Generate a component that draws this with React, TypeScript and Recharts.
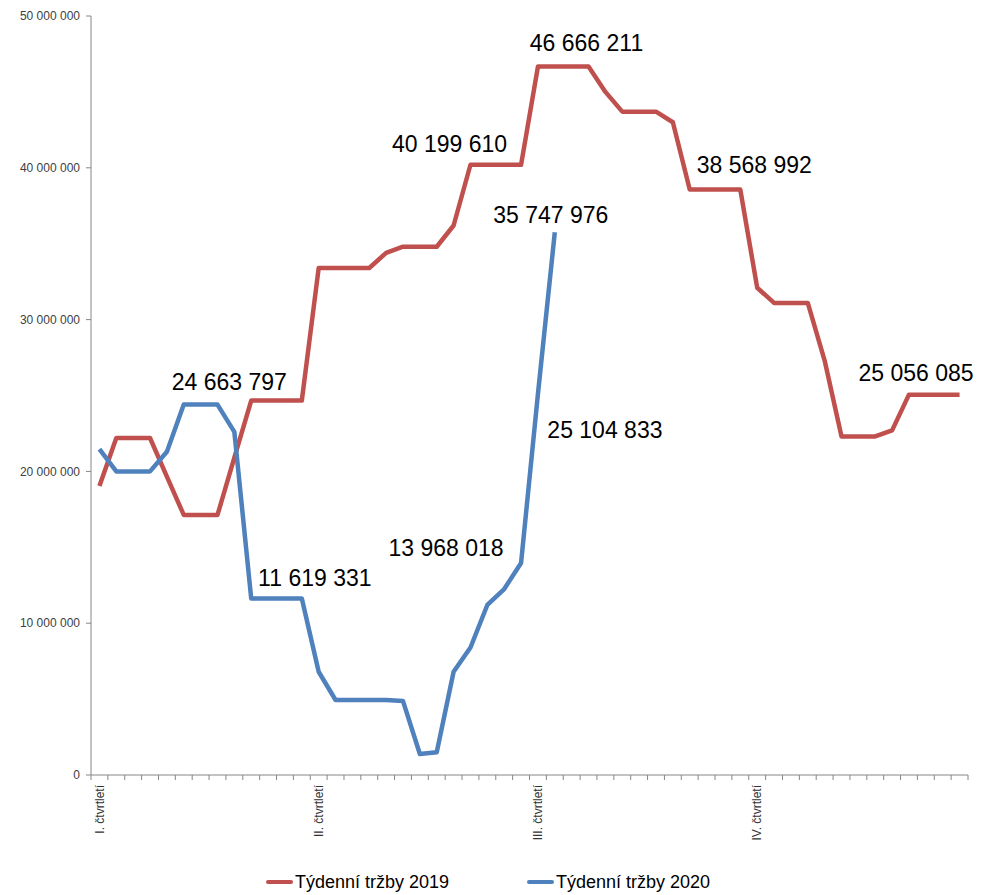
import React from "react";
import { LineChart, Line, XAxis, YAxis, Legend } from "recharts";

// Week categories (52 weeks), quarter labels shown at quarter starts
const quarterLabels: string[] = ["I. čtvrtletí", "II. čtvrtletí", "III. čtvrtletí", "IV. čtvrtletí"];
const quarterStartWeeks: number[] = [0, 13, 26, 39];

const yTicks: number[] = [0, 10000000, 20000000, 30000000, 40000000, 50000000];

const sales2019: number[] = [
  19040000, 22200000, 22200000, 22200000, 19650000, 17130000, 17130000, 17130000,
  20900000, 24663797, 24663797, 24663797, 24663797, 33400000, 33400000, 33400000,
  33400000, 34400000, 34800000, 34800000, 34800000, 36200000, 40199610, 40199610,
  40199610, 40199610, 46666211, 46666211, 46666211, 46666211, 45000000, 43700000,
  43700000, 43700000, 43000000, 38568992, 38568992, 38568992, 38568992, 32100000,
  31100000, 31100000, 31100000, 27300000, 22300000, 22300000, 22300000, 22700000,
  25056085, 25056085, 25056085, 25056085,
];

const sales2020: (number | null)[] = [
  21470000, 20000000, 20000000, 20000000, 21300000, 24400000, 24400000, 24400000,
  22600000, 11619331, 11619331, 11619331, 11619331, 6800000, 4940000, 4940000,
  4940000, 4940000, 4870000, 1380000, 1500000, 6800000, 8400000, 11200000,
  12250000, 13968018, 25104833, 35747976,
  null, null, null, null, null, null, null, null, null, null, null, null,
  null, null, null, null, null, null, null, null, null, null, null, null,
];

// Labelled points: week index -> label offset (dx, dy) relative to the point
const labels2019: { idx: number; dx: number; dy: number }[] = [
  { idx: 9, dx: -22, dy: -19 },
  { idx: 22, dx: -21, dy: -21 },
  { idx: 29, dx: -2, dy: -24 },
  { idx: 38, dx: 14, dy: -25 },
  { idx: 48, dx: 7, dy: -22 },
];
const labels2020: { idx: number; dx: number; dy: number }[] = [
  { idx: 12, dx: 13, dy: -21 },
  { idx: 25, dx: -75, dy: -15 },
  { idx: 26, dx: 67, dy: 36 },
  { idx: 27, dx: -4, dy: -18 },
];

const RED = "#C0504D";
const BLUE = "#4F81BD";
const FONT = "'Liberation Sans', Arial, sans-serif";

const data = sales2019.map((v, i) => ({
  i,
  s2019: v,
  s2020: sales2020[i],
}));

const boundaryTicks: number[] = Array.from({ length: 53 }, (_, k) => k - 0.5);

const fmt = (v: number) => String(Math.round(v)).replace(/\B(?=(\d{3})+(?!\d))/g, " ");

const makeLabel = (cfg: { idx: number; dx: number; dy: number }[]) => (props: any) => {
  const { x, y, index, value } = props;
  const c = cfg.find((e) => e.idx === index);
  if (!c || value == null || x == null || y == null) return null;
  return (
    <text
      key={`lbl-${index}`}
      x={x + c.dx}
      y={y + c.dy}
      dy="0.36em"
      textAnchor="middle"
      fontFamily={FONT}
      fontSize={23}
      fill="#000"
    >
      {fmt(value)}
    </text>
  );
};

const QuarterTick = (props: any) => {
  const { x, y, payload } = props;
  const k = quarterStartWeeks.indexOf(payload.value);
  if (k < 0) return null;
  return (
    <text
      x={x}
      y={y}
      dy="0.35em"
      transform={`rotate(-90, ${x}, ${y})`}
      textAnchor="end"
      fontFamily={FONT}
      fontSize={12}
      fill="#333"
    >
      {quarterLabels[k]}
    </text>
  );
};

const LegendContent = () => (
  <div
    style={{
      height: 22,
      display: "flex",
      justifyContent: "center",
      alignItems: "center",
      gap: 78,
      paddingLeft: 8,
      fontFamily: FONT,
      fontSize: 18,
      color: "#000",
    }}
  >
    {[
      { c: RED, t: "Týdenní tržby 2019" },
      { c: BLUE, t: "Týdenní tržby 2020" },
    ].map((e) => (
      <div key={e.t} style={{ display: "flex", alignItems: "center" }}>
        <div style={{ width: 27, height: 4, background: e.c, borderRadius: 2, marginRight: 2 }} />
        <span>{e.t}</span>
      </div>
    ))}
  </div>
);

export default function App() {
  return (
    <div style={{ position: "absolute", left: 0, top: 0, width: 981, height: 895, background: "#fff" }}>
      <LineChart width={981} height={895} data={data} margin={{ top: 16, right: 13, bottom: 2, left: 0 }}>
        <YAxis
          type="number"
          domain={[0, 50000000]}
          ticks={yTicks}
          width={91}
          tickFormatter={fmt}
          tickSize={5}
          tickMargin={6}
          axisLine={{ stroke: "#868686" }}
          tickLine={{ stroke: "#868686" }}
          tick={{ fontFamily: FONT, fontSize: 12, fill: "#404040" }}
          interval={0}
        />
        <XAxis
          xAxisId="a"
          type="number"
          dataKey="i"
          domain={[-0.5, 51.5]}
          ticks={boundaryTicks}
          interval={0}
          height={6}
          tickSize={5}
          axisLine={{ stroke: "#868686" }}
          tickLine={{ stroke: "#868686" }}
          tick={() => <g />}
          allowDataOverflow
        />
        <XAxis
          xAxisId="b"
          type="number"
          dataKey="i"
          domain={[-0.5, 51.5]}
          ticks={quarterStartWeeks}
          interval={0}
          height={90}
          tickSize={0}
          tickMargin={4}
          axisLine={false}
          tickLine={false}
          tick={<QuarterTick />}
          allowDataOverflow
        />
        <Legend verticalAlign="bottom" content={<LegendContent />} />
        <Line
          xAxisId="a"
          dataKey="s2019"
          stroke={RED}
          strokeWidth={4.5}
          strokeLinejoin="round"
          dot={false}
          activeDot={false}
          isAnimationActive={false}
          label={makeLabel(labels2019)}
        />
        <Line
          xAxisId="a"
          dataKey="s2020"
          stroke={BLUE}
          strokeWidth={4.5}
          strokeLinejoin="round"
          dot={false}
          activeDot={false}
          isAnimationActive={false}
          label={makeLabel(labels2020)}
        />
      </LineChart>
    </div>
  );
}
